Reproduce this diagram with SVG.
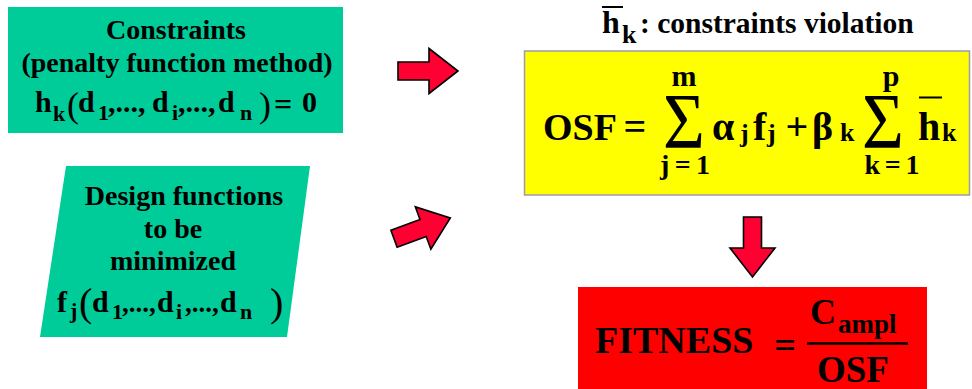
<svg xmlns="http://www.w3.org/2000/svg" width="972" height="389" viewBox="0 0 972 389">
<defs>
<path id="arr" d="M0,-9 L31,-9 L31,-22.5 L60,0 L31,22.5 L31,9 L0,9 Z"/>
</defs>
<rect width="972" height="389" fill="#fff"/>
<g font-family="Liberation Serif" font-weight="bold" fill="#000">
<g id="constraints">
<rect x="8" y="7" width="335" height="126" fill="#00CC99"/>
<text text-anchor="middle" x="176" y="39" font-size="28">Constraints</text>
<text text-anchor="middle" x="177" y="72" font-size="28">(penalty function method)</text>
<text x="35" y="112" font-size="30">h</text>
<text x="53" y="121" font-size="22">k</text>
<text font-weight="normal" x="67" y="117" font-size="36">(</text>
<text x="78" y="112" font-size="30">d</text>
<text x="98" y="120" font-size="22">1</text>
<text x="108" y="112" font-size="30">,...,</text>
<text x="152" y="112" font-size="30">d</text>
<text x="172" y="120" font-size="22">i</text>
<text x="178" y="112" font-size="30">,...,</text>
<text x="218" y="112" font-size="30">d</text>
<text x="240" y="120" font-size="22">n</text>
<text font-weight="normal" x="259" y="117" font-size="36">)</text>
<text text-anchor="middle" x="283" y="115" font-size="32">=</text>
<text x="302" y="112" font-size="30">0</text>
</g>

<g id="design">
<polygon points="66,166 310,166 287,337 40,337" fill="#00CC99"/>
<text text-anchor="middle" x="184" y="205" font-size="28">Design functions</text>
<text text-anchor="middle" x="173" y="238" font-size="28">to be</text>
<text text-anchor="middle" x="173" y="270" font-size="28">minimized</text>
<text x="57" y="312" font-size="30">f</text>
<text x="70" y="318" font-size="22">j</text>
<text font-weight="normal" x="79" y="316" font-size="40">(</text>
<text x="92" y="312" font-size="30">d</text>
<text x="112" y="319" font-size="22">1</text>
<text x="122" y="312" font-size="27">,...,</text>
<text x="157" y="312" font-size="30">d</text>
<text x="176" y="319" font-size="22">i</text>
<text x="185" y="312" font-size="27">,...,</text>
<text x="220" y="312" font-size="30">d</text>
<text x="240" y="319" font-size="22">n</text>
<text font-weight="normal" x="270" y="316" font-size="40">)</text>
</g>

<g id="title">
<line x1="602" y1="7" x2="623" y2="7" stroke="#000" stroke-width="2"/>
<text x="602" y="33" font-size="32">h</text>
<text x="622" y="43" font-size="26">k</text>
<text x="640" y="33" font-size="29.5">: constraints violation</text>
</g>

<g id="osf">
<rect x="524.5" y="51" width="445" height="144" fill="#FFFF00" stroke="#9A9AB0" stroke-width="1.5"/>
<text x="543" y="140" font-size="38">OSF</text>
<text text-anchor="middle" x="635" y="140" font-size="40">=</text>
<text text-anchor="middle" font-weight="normal" font-size="72" transform="translate(684,147) scale(1,1.1)">Σ</text>
<text text-anchor="middle" x="684" y="86" font-size="30">m</text>
<text text-anchor="middle" x="685" y="174" font-size="28" textLength="50" lengthAdjust="spacing">j=1</text>
<text x="712" y="140" font-size="40">α</text>
<text x="740" y="142" font-size="26">j</text>
<text x="753" y="140" font-size="40">f</text>
<text x="767" y="142" font-size="26">j</text>
<text text-anchor="middle" x="797" y="140" font-size="40">+</text>
<text x="812" y="140" font-size="40">β</text>
<text x="840" y="141" font-size="26">k</text>
<text text-anchor="middle" font-weight="normal" font-size="72" transform="translate(883,147) scale(1,1.1)">Σ</text>
<text text-anchor="middle" x="891" y="86" font-size="30">p</text>
<text text-anchor="middle" x="892" y="174" font-size="28" textLength="55" lengthAdjust="spacing">k=1</text>
<line x1="919" y1="97.5" x2="942" y2="97.5" stroke="#000" stroke-width="2"/>
<text x="918" y="140" font-size="40">h</text>
<text x="942" y="141" font-size="26">k</text>
</g>

<g id="fitness">
<rect x="578" y="287" width="349" height="102" fill="#FF0000"/>
<text x="595" y="353" font-size="38">FITNESS</text>
<text text-anchor="middle" x="785" y="358" font-size="38">=</text>
<text x="810" y="324" font-size="36">C</text>
<text x="838" y="333" font-size="27">ampl</text>
<line x1="807" y1="343.5" x2="908" y2="343.5" stroke="#000" stroke-width="2.5"/>
<text x="817" y="382" font-size="37">OSF</text>
</g>
</g>
<g id="connectors" fill="#FF0033" stroke="#000" stroke-width="1.6">
<use href="#arr" transform="translate(398,71)"/>
<use href="#arr" transform="translate(394,238.7) rotate(-20.2)"/>
<use href="#arr" transform="translate(752.5,217) rotate(90)"/>
</g>
</svg>
